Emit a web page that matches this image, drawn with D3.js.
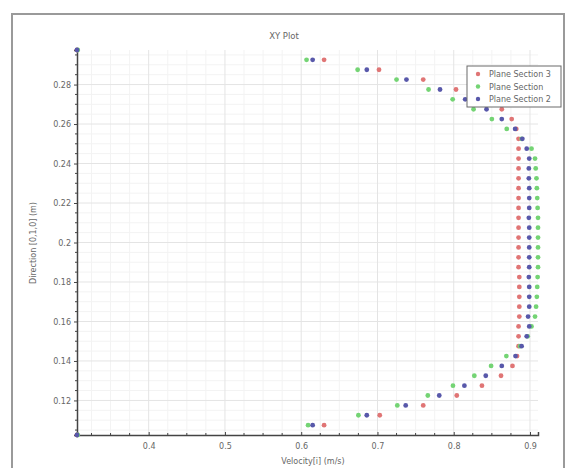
<!DOCTYPE html>
<html>
<head>
<meta charset="utf-8">
<script src="https://cdn.jsdelivr.net/npm/d3@7"></script>
<style>
  html, body { margin: 0; padding: 0; background: #fff; }
  svg { display: block; font-family: "DejaVu Sans", "Liberation Sans", sans-serif; }
</style>
</head>
<body>
<svg id="chart" width="567" height="468"></svg>
<script>
// Probe positions along the [0,1,0] direction (m)
const direction = [
  0.1025, 0.1075, 0.1125, 0.1175, 0.1225, 0.1275, 0.1325, 0.1375, 0.1425, 0.1475,
  0.1525, 0.1575, 0.1625, 0.1675, 0.1725, 0.1775, 0.1825, 0.1875, 0.1925, 0.1975,
  0.2025, 0.2075, 0.2125, 0.2175, 0.2225, 0.2275, 0.2325, 0.2375, 0.2425, 0.2475,
  0.2525, 0.2575, 0.2625, 0.2675, 0.2725, 0.2775, 0.2825, 0.2875, 0.2925, 0.2975
];

// Velocity[i] (m/s) for each plane section, same order as direction
const planeSection3 = [
  0.306, 0.630, 0.703, 0.760, 0.804, 0.837, 0.862, 0.877, 0.883, 0.885,
  0.885, 0.885, 0.886, 0.886, 0.886, 0.886, 0.886, 0.885, 0.885, 0.885,
  0.885, 0.885, 0.885, 0.885, 0.885, 0.885, 0.885, 0.885, 0.885, 0.885,
  0.885, 0.882, 0.876, 0.863, 0.837, 0.803, 0.760, 0.702, 0.630, 0.306
];
const planeSection = [
  0.307, 0.609, 0.675, 0.726, 0.766, 0.799, 0.827, 0.849, 0.869, 0.887,
  0.897, 0.902, 0.9066, 0.908, 0.909, 0.9095, 0.910, 0.9105, 0.9105, 0.9105,
  0.9105, 0.9105, 0.9105, 0.910, 0.9095, 0.909, 0.9085, 0.9075, 0.9066, 0.902,
  0.889, 0.8695, 0.850, 0.826, 0.7986, 0.767, 0.725, 0.674, 0.607, 0.307
];
const planeSection2 = [
  0.306, 0.615, 0.686, 0.737, 0.781, 0.814, 0.842, 0.863, 0.881, 0.889,
  0.8957, 0.899, 0.8975, 0.899, 0.899, 0.899, 0.8985, 0.899, 0.899, 0.899,
  0.899, 0.899, 0.8985, 0.899, 0.899, 0.899, 0.8985, 0.8985, 0.899, 0.8957,
  0.890, 0.8805, 0.863, 0.843, 0.815, 0.782, 0.738, 0.686, 0.615, 0.306
];

const seriesNames = ["Plane Section 3", "Plane Section", "Plane Section 2"];
const seriesColors = ["#e07575", "#74d474", "#5858aa"];
const seriesValues = [planeSection3, planeSection, planeSection2];

const xTicks = [0.4, 0.5, 0.6, 0.7, 0.8, 0.9];
const xTickLabels = ["0.4", "0.5", "0.6", "0.7", "0.8", "0.9"];
const yTicks = [0.12, 0.14, 0.16, 0.18, 0.2, 0.22, 0.24, 0.26, 0.28];
const yTickLabels = ["0.12", "0.14", "0.16", "0.18", "0.2", "0.22", "0.24", "0.26", "0.28"];

const svg = d3.select("#chart");

const plot = { left: 77, right: 538, top: 50, bottom: 435 };

const allVel = seriesValues.flat();
const x = d3.scaleLinear().domain(d3.extent(allVel)).range([plot.left, plot.right]);
const y = d3.scaleLinear().domain(d3.extent(direction)).range([plot.bottom, plot.top]);

// outer panel frame
svg.append("path")
  .attr("d", "M12,470 L12,14 L564,14 L564,470")
  .attr("fill", "none").attr("stroke", "#9a9a9a").attr("stroke-width", 2);

// minor grid
const xMinor = d3.range(0.325, 0.91, 0.025).filter(v => !xTicks.some(t => Math.abs(t - v) < 1e-6));
const yMinor = d3.range(0.105, 0.2976, 0.005).filter(v => !yTicks.some(t => Math.abs(t - v) < 1e-6));
const grid = svg.append("g");
grid.selectAll(".gx").data(xMinor).join("line")
  .attr("x1", d => x(d)).attr("x2", d => x(d)).attr("y1", plot.top).attr("y2", plot.bottom)
  .attr("stroke", "#f3f3f3").attr("stroke-width", 1);
grid.selectAll(".gy").data(yMinor).join("line")
  .attr("y1", d => y(d)).attr("y2", d => y(d)).attr("x1", plot.left).attr("x2", plot.right)
  .attr("stroke", "#f3f3f3").attr("stroke-width", 1);
// major grid
grid.selectAll(".Gx").data(xTicks).join("line")
  .attr("x1", d => x(d)).attr("x2", d => x(d)).attr("y1", plot.top).attr("y2", plot.bottom)
  .attr("stroke", "#e4e4e4").attr("stroke-width", 1);
grid.selectAll(".Gy").data(yTicks).join("line")
  .attr("y1", d => y(d)).attr("y2", d => y(d)).attr("x1", plot.left).attr("x2", plot.right)
  .attr("stroke", "#e4e4e4").attr("stroke-width", 1);

// axes
const axisColor = "#444";
const xAxis = svg.append("g").attr("transform", `translate(0,${plot.bottom})`)
  .call(d3.axisBottom(x).tickValues(xTicks).tickSize(-3).tickPadding(8)
    .tickFormat((d, i) => xTickLabels[i]));
const yAxis = svg.append("g").attr("transform", `translate(${plot.left},0)`)
  .call(d3.axisLeft(y).tickValues(yTicks).tickSize(3).tickPadding(3)
    .tickFormat((d, i) => yTickLabels[i]));
[xAxis, yAxis].forEach(g => {
  g.select(".domain").attr("stroke", axisColor).attr("stroke-width", 1.5);
  g.selectAll(".tick line").attr("stroke", axisColor);
  g.selectAll(".tick text").attr("fill", "#666").attr("font-size", 8)
    .attr("font-family", "DejaVu Sans, sans-serif");
});
// minor ticks
svg.append("g").selectAll("line").data(xMinor).join("line")
  .attr("x1", d => x(d)).attr("x2", d => x(d))
  .attr("y1", plot.bottom).attr("y2", plot.bottom - 2)
  .attr("stroke", axisColor);
svg.append("g").selectAll("line").data(yMinor).join("line")
  .attr("y1", d => y(d)).attr("y2", d => y(d))
  .attr("x1", plot.left).attr("x2", plot.left - 2)
  .attr("stroke", axisColor);

// data markers
seriesValues.forEach((vals, s) => {
  svg.append("g").selectAll("circle").data(vals).join("circle")
    .attr("cx", d => x(d))
    .attr("cy", (d, i) => y(direction[i]))
    .attr("r", 2.4)
    .attr("fill", seriesColors[s]);
});

// title and axis labels
svg.append("text").attr("x", 284).attr("y", 39).attr("text-anchor", "middle")
  .attr("font-size", 8.5).attr("fill", "#666").text("XY Plot");
svg.append("text").attr("x", 313).attr("y", 464).attr("text-anchor", "middle")
  .attr("font-size", 8).attr("fill", "#666").text("Velocity[i] (m/s)");
svg.append("text").attr("transform", "translate(36,243) rotate(-90)").attr("text-anchor", "middle")
  .attr("font-size", 8).attr("fill", "#666").text("Direction [0,1,0] (m)");

// legend
const legend = svg.append("g").attr("transform", "translate(467,66)");
legend.append("rect").attr("width", 94).attr("height", 41)
  .attr("fill", "#fff").attr("stroke", "#6a6a6a").attr("stroke-width", 1);
seriesNames.forEach((name, i) => {
  const row = legend.append("g").attr("transform", `translate(0,${8 + i * 12.5})`);
  row.append("circle").attr("cx", 11).attr("cy", 0).attr("r", 2.2).attr("fill", seriesColors[i]);
  row.append("text").attr("x", 22).attr("y", 3).attr("font-size", 8)
    .attr("fill", "#666").text(name);
});
</script>
</body>
</html>
